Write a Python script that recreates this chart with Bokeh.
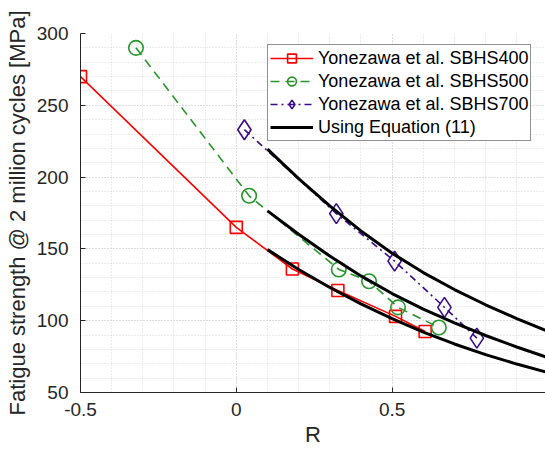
from bokeh.plotting import figure
from bokeh.models import SingleIntervalTicker, Legend, LegendItem, Range1d
from bokeh.embed import file_html
from bokeh.resources import INLINE

# --- data ---
r_400 = [-0.5, 0.0, 0.18, 0.326, 0.511, 0.606]
s_400 = [270, 165, 136, 121, 103, 92.5]

r_500 = [-0.322, 0.041, 0.329, 0.426, 0.519, 0.65]
s_500 = [290, 187, 135.7, 127.5, 109.3, 95.3]

r_700 = [0.026, 0.321, 0.508, 0.668, 0.772]
s_700 = [233, 174.6, 141.5, 109.3, 87.9]

r_eq = [0.1, 0.2, 0.3, 0.4, 0.5, 0.6, 0.7, 0.8, 0.9, 1.0]
s_eq_700 = [219.5, 199, 180, 162.5, 147, 133.5, 121.7, 111.1, 101.5, 92.7]
s_eq_500 = [176.5, 160.2, 145, 131.2, 118.9, 108.1, 98.5, 89.7, 81.7, 74.3]
s_eq_400 = [149.5, 135.7, 123.1, 111.7, 101.4, 92.1, 83.8, 76.4, 69.8, 63.9]

x_ticks = {-0.5: "-0.5", 0: "0", 0.5: "0.5"}
labels = ["Yonezawa et al. SBHS400", "Yonezawa et al. SBHS500",
          "Yonezawa et al. SBHS700", "Using Equation (11)"]

FONT = "Liberation Sans"
RED, GREEN, PURPLE = "#ff0000", "#27962a", "#3d0a8a"

p = figure(width=545, height=449, output_backend="svg", toolbar_location=None,
           x_range=Range1d(-0.5, 0.9923), y_range=Range1d(50, 300))
p.min_border_left = 80
p.min_border_right = 0
p.min_border_top = 33
p.min_border_bottom = 57
p.outline_line_color = None
p.background_fill_color = "white"
p.border_fill_color = "white"

for ax in (p.xaxis[0], p.yaxis[0]):
    ax.major_tick_in = 5
    ax.major_tick_out = 0
    ax.minor_tick_line_color = None
    ax.axis_line_color = "#262626"
    ax.major_tick_line_color = "#262626"
    ax.major_label_text_font = FONT
    ax.major_label_text_font_size = "19px"
    ax.major_label_text_color = "#262626"
    ax.axis_label_text_font = FONT
    ax.axis_label_text_font_size = "22px"
    ax.axis_label_text_font_style = "normal"
    ax.axis_label_text_color = "#262626"

p.xaxis.ticker = SingleIntervalTicker(interval=0.5, num_minor_ticks=5)
p.yaxis.ticker = SingleIntervalTicker(interval=50, num_minor_ticks=5)
p.xaxis.major_label_overrides = x_ticks
p.xaxis.axis_label = "R"
p.yaxis.axis_label = "Fatigue strength @ 2 million cycles [MPa]"
p.xaxis.major_label_standoff = 6
p.xaxis.axis_label_standoff = 3
p.yaxis.major_label_standoff = 8
p.yaxis.axis_label_standoff = 4

for g in (p.xgrid[0], p.ygrid[0]):
    g.grid_line_color = "#cccccc"
    g.grid_line_dash = "1 2"
    g.grid_line_width = 1
    g.minor_grid_line_color = "#dadada"
    g.minor_grid_line_dash = "1 2"
    g.minor_grid_line_width = 1

l400 = p.line(r_400, s_400, line_color=RED, line_width=1.6)
m400 = p.scatter(r_400, s_400, marker="square", size=12, fill_color=None,
                 line_color=RED, line_width=1.6)
l500 = p.line(r_500, s_500, line_color=GREEN, line_width=1.6, line_dash="9 6")
m500 = p.scatter(r_500, s_500, marker="circle", size=14.5, fill_color=None,
                 line_color=GREEN, line_width=1.6)
l700 = p.line(r_700, s_700, line_color=PURPLE, line_width=1.6, line_dash="7 4 2 4")
m700 = p.scatter(r_700, s_700, marker="diamond", size=20, fill_color=None,
                 line_color=PURPLE, line_width=1.6)

e1 = p.line(r_eq, s_eq_700, line_color="black", line_width=3)
e2 = p.line(r_eq, s_eq_500, line_color="black", line_width=3)
e3 = p.line(r_eq, s_eq_400, line_color="black", line_width=3)

legend = Legend(items=[
    LegendItem(label=labels[0], renderers=[l400, m400]),
    LegendItem(label=labels[1], renderers=[l500, m500]),
    LegendItem(label=labels[2], renderers=[l700, m700]),
    LegendItem(label=labels[3], renderers=[e1]),
], location=(187, 251))
legend.label_text_font = FONT
legend.label_text_font_size = "18px"
legend.label_text_color = "black"
legend.glyph_width = 43
legend.glyph_height = 22
legend.label_height = 22
legend.label_standoff = 5
legend.spacing = 1
legend.padding = 2
legend.margin = 0
legend.border_line_color = "#262626"
legend.border_line_width = 1
legend.background_fill_color = "white"
legend.background_fill_alpha = 1
p.add_layout(legend, "center")

open("out.html", "w").write(file_html(p, INLINE))
